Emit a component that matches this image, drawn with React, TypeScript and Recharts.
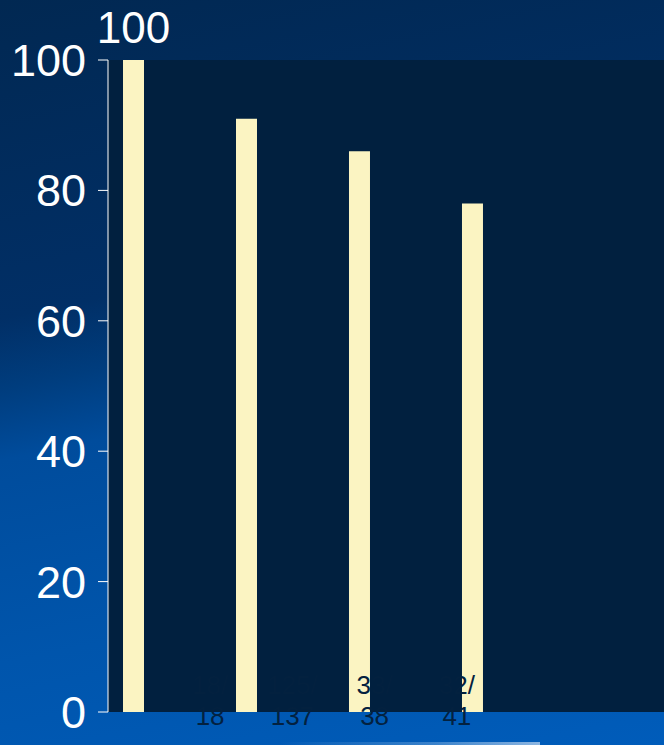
import React from 'react';
import { BarChart, Bar, XAxis, YAxis, CartesianGrid, LabelList } from 'recharts';

// cohort fractions shown under the bars, percent per cohort
const cohorts = ['18/18', '125/137', '33/38', '32/41'];
const percent = [100, 91, 86, 78];
const valueLabels = ['100', '', '', ''];
const yTicks = [0, 20, 40, 60, 80, 100];

const NAVY = '#01203f';
const CREAM = '#fbf4c2';
const INK = '#03213f';

const chartData = cohorts.map((c, i) => ({
  idx: i,
  cohort: c,
  pct: percent[i],
  top: valueLabels[i],
}));

// fraction split after the slash, two lines straddling the baseline
const CohortTick = (props: any) => {
  const { x, y, payload } = props;
  const s = String(payload.value);
  const cut = s.indexOf('/') + 1;
  const first = s.slice(0, cut);
  const second = s.slice(cut);
  return (
    <text x={x} y={y} textAnchor="middle" fill={INK} fontSize={26} fontFamily="'Liberation Sans', Arial, sans-serif">
      <tspan x={x} dy={-48}>{first}</tspan>
      <tspan x={x} dy={31}>{second}</tspan>
    </text>
  );
};

const TopLabel = (props: any) => {
  const { x, y, width, value } = props;
  if (!value) return null;
  return (
    <text x={x + width / 2} y={y - 17} textAnchor="middle" fill="#ffffff" fontSize={44} fontFamily="'Liberation Sans', Arial, sans-serif">
      {value}
    </text>
  );
};

export default function App() {
  return (
    <div
      style={{
        position: 'absolute',
        left: 0,
        top: 0,
        width: 664,
        height: 745,
        overflow: 'hidden',
        background:
          'linear-gradient(168deg, #012852 0%, #012f66 36%, #003d7e 44%, #004c9c 52%, #0055ac 75%, #005cba 100%)',
      }}
    >
      <div
        style={{
          position: 'absolute',
          left: 280,
          top: 742,
          width: 260,
          height: 3,
          background: 'linear-gradient(90deg, rgba(160,200,240,0) 0%, rgba(170,205,240,0.35) 60%, rgba(200,220,242,0.7) 100%)',
        }}
      />
      <BarChart
        width={664}
        height={745}
        data={chartData}
        margin={{ top: 60, right: 0, bottom: 0, left: 0 }}
        style={{ position: 'absolute', left: 0, top: 0 }}
      >
        <CartesianGrid fill={NAVY} stroke="none" horizontal={false} vertical={false} />
        <XAxis xAxisId="bars" type="number" dataKey="idx" domain={[-0.2257, 4.695]} hide />
        <XAxis
          xAxisId="labels"
          type="category"
          dataKey="cohort"
          height={33}
          axisLine={false}
          tickLine={false}
          tickSize={0}
          tickMargin={0}
          interval={0}
          padding={{ left: 61, right: 166 }}
          tick={<CohortTick />}
        />
        <YAxis
          domain={[0, 100]}
          ticks={yTicks}
          width={108}
          stroke="#ffffff"
          tickSize={10}
          tickMargin={12}
          tick={{ fill: '#ffffff', fontSize: 45, fontFamily: "'Liberation Sans', Arial, sans-serif" }}
        />
        <Bar xAxisId="bars" dataKey="pct" fill={CREAM} barSize={21} isAnimationActive={false}>
          <LabelList dataKey="top" content={<TopLabel />} />
        </Bar>
      </BarChart>
    </div>
  );
}
